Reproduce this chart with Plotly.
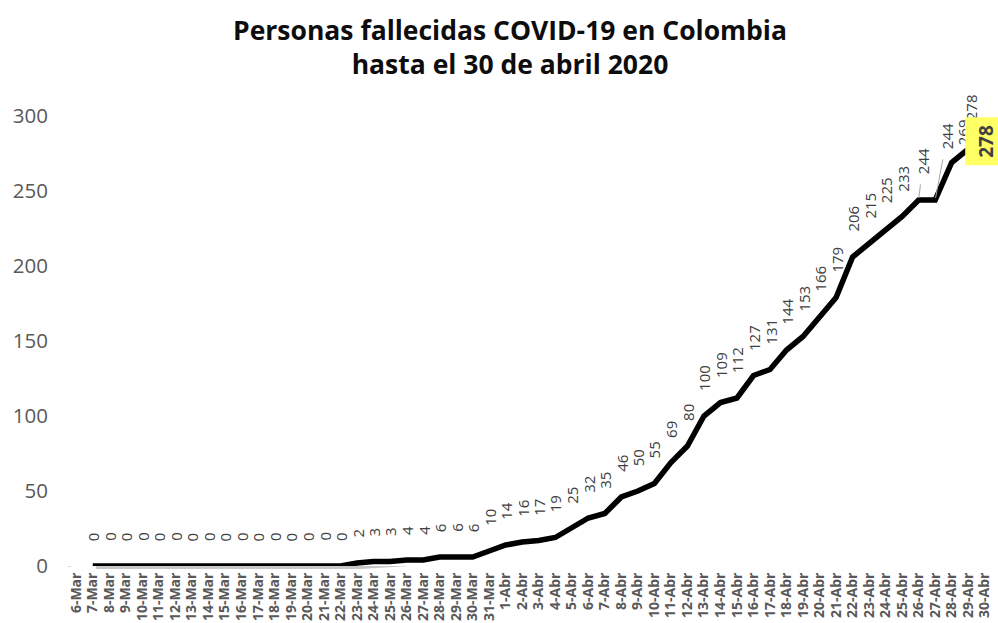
import plotly.graph_objects as go

# ---------------- data ----------------
fechas_mar = [f"{d}-Mar" for d in range(6, 32)]
fechas_abr = [f"{d}-Abr" for d in range(1, 31)]
categorias = fechas_mar + fechas_abr

fallecidos_mar = [None,
                  0, 0, 0, 0, 0, 0, 0, 0, 0, 0, 0, 0, 0, 0, 0, 0,
                  2, 3, 3, 4, 4, 6, 6, 6, 10]
fallecidos_abr = [14, 16, 17, 19, 25, 32, 35, 46, 50, 55,
                  69, 80, 100, 109, 112, 127, 131, 144, 153, 166,
                  179, 206, 215, 225, 233, 244, 244, 269, 278, 278]
fallecidos = fallecidos_mar + fallecidos_abr

y_ticks = [0, 50, 100, 150, 200, 250, 300]

titulo = "<b>Personas fallecidas COVID-19 en Colombia<br>hasta el 30 de abril 2020</b>"

# ---------------- styling ----------------
FONT = "Open Sans"
W, H = 998, 623
ML, MR, MT, MB = 68, 2, 116, 54
SH = 3  # shadow offset px
pw = W - ML - MR
ph = H - MT - MB

fig = go.Figure()

# invisible trace to set main axes
fig.add_trace(go.Scatter(x=categorias, y=fallecidos, mode="lines",
                         line=dict(color="rgba(0,0,0,0)", width=0),
                         hoverinfo="skip", showlegend=False, xaxis="x", yaxis="y"))
# shadow
fig.add_trace(go.Scatter(x=categorias, y=fallecidos, mode="lines",
                         line=dict(color="rgba(0,0,0,0.22)", width=6),
                         hoverinfo="skip", showlegend=False, xaxis="x2", yaxis="y2"))
# main line
fig.add_trace(go.Scatter(x=categorias, y=fallecidos, mode="lines",
                         line=dict(color="#000000", width=5.5),
                         showlegend=False, xaxis="x3", yaxis="y3"))

main_xdom = [0, (pw - SH) / pw]
shadow_xdom = [SH / pw, 1]
main_ydom = [SH / ph, 1]
shadow_ydom = [0, (ph - SH) / ph]
xr = [-0.5, len(categorias) - 0.5]
yr = [0, 300]

common_hidden = dict(visible=False, showgrid=False, zeroline=False)

# data labels
special = {
    51: dict(arrow=True, ax=4.5, ay=-39),
    52: dict(arrow=True, ax=12, ay=-64),
    53: dict(xshift=11, yshift=15),
    54: dict(xshift=3, yshift=27),
}
annotations = []
last = len(categorias) - 1
for i, (c, v) in enumerate(zip(categorias, fallecidos)):
    if v is None:
        continue
    if i == last:
        annotations.append(dict(
            x=c, y=v, xref="x", yref="y", text=f"<b>{v}</b>", showarrow=False,
            textangle=-90, xanchor="center", yanchor="middle",
            xshift=1, yshift=8, bgcolor="#ffff66", borderpad=7,
            font=dict(family=FONT, size=19, color="#404040")))
        continue
    s = special.get(i, {})
    if s.get("arrow"):
        annotations.append(dict(
            x=c, y=v, xref="x", yref="y", text=str(v), showarrow=True,
            ax=s["ax"], ay=s["ay"], arrowhead=0, arrowwidth=1,
            arrowcolor="#a6a6a6", startstandoff=9, standoff=2,
            textangle=-90,
            font=dict(family=FONT, size=15, color="#404040")))
    else:
        annotations.append(dict(
            x=c, y=v, xref="x", yref="y", text=str(v), showarrow=False,
            textangle=-90, xanchor="center", yanchor="bottom",
            xshift=s.get("xshift", 0), yshift=s.get("yshift", 23),
            font=dict(family=FONT, size=15, color="#404040")))

# title as annotation (precise two-line placement)
annotations.append(dict(
    text=titulo, xref="paper", yref="paper",
    x=(510 - ML) / pw, y=(H - MB - 10) / ph,
    xanchor="center", yanchor="top", showarrow=False, align="center",
    font=dict(family=FONT, size=26.5, color="#0d0d0d")))

fig.update_layout(
    width=W, height=H,
    margin=dict(l=ML, r=MR, t=MT, b=MB, pad=0),
    paper_bgcolor="white", plot_bgcolor="white",
    xaxis=dict(type="category", domain=main_xdom, range=xr, anchor="y",
               categoryorder="array", categoryarray=categorias,
               tickmode="array", tickvals=categorias, ticktext=categorias,
               tickangle=-90, showgrid=False, zeroline=False,
               showline=True, linecolor="#d9d9d9", linewidth=1,
               ticks="", tickfont=dict(family=FONT, size=14, color="#595959", weight="bold")),
    yaxis=dict(domain=main_ydom, range=yr, anchor="x",
               tickmode="array", tickvals=y_ticks,
               showgrid=True, gridcolor="#d9d9d9", gridwidth=1,
               zeroline=False, showline=False, ticks="",
               ticklabelstandoff=19,
               tickfont=dict(family=FONT, size=20.5, color="#595959")),
    xaxis2=dict(type="category", domain=shadow_xdom, range=xr, anchor="y2",
                categoryorder="array", categoryarray=categorias, **common_hidden),
    yaxis2=dict(domain=shadow_ydom, range=yr, anchor="x2", **common_hidden),
    xaxis3=dict(type="category", domain=main_xdom, range=xr, anchor="y3",
                categoryorder="array", categoryarray=categorias, **common_hidden),
    yaxis3=dict(domain=main_ydom, range=yr, anchor="x3", **common_hidden),
    annotations=annotations,
)

fig.write_html("out.html")
